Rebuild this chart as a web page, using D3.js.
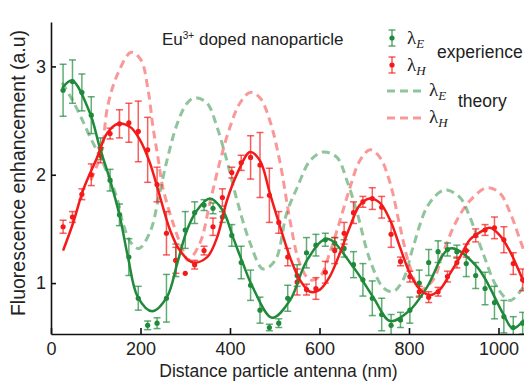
<!DOCTYPE html>
<html>
<head>
<meta charset="utf-8">
<script src="https://cdn.jsdelivr.net/npm/d3@7"></script>
<style>
  body { margin: 0; background: #fff; }
  text { font-family: "Liberation Sans", Arial, sans-serif; }
</style>
</head>
<body>
<div id="chart"></div>
<script>
// measured points (nm), shared by both experiment series
const xExp = [27, 48, 69, 90, 111, 132, 153, 174, 195, 216, 237, 258, 279, 300, 321, 342, 362, 383, 404, 425,
  446, 467, 488, 509, 529, 550, 571, 592, 613, 634, 655, 676, 697, 718, 739, 760, 781, 802, 823, 844,
  865, 886, 907, 928, 949, 970, 991, 1012, 1033, 1054];
const greenExp = [2.78, 2.86, 2.76, 2.55, 2.24, 1.95, 1.63, 1.24, 0.86, 0.61, 0.63, 0.86, 1.21, 1.49, 1.65, 1.72, 1.69, 1.61, 1.44, 1.19,
  0.98, 0.75, 0.59, 0.63, 0.86, 1.07, 1.28, 1.35, 1.40, 1.37, 1.32, 1.17, 1.03, 0.86, 0.71, 0.61, 0.66, 0.75, 1.00, 1.19,
  1.29, 1.31, 1.29, 1.18, 1.07, 0.95, 0.82, 0.69, 0.59, 0.63];
const greenErr = [0.24, 0.2, 0.17, 0.17, 0.1, 0.1, 0.1, 0.17, 0.11, 0.04, 0.05, 0.22, 0.15, 0.17, 0.1, 0.05, 0.05, 0.05, 0.1, 0.15,
  0.14, 0.12, 0.03, 0.04, 0.12, 0.1, 0.14, 0.1, 0.06, 0.05, 0.08, 0.12, 0.15, 0.16, 0.15, 0.1, 0.07, 0.12, 0.12, 0.12,
  0.1, 0.06, 0.06, 0.12, 0.12, 0.15, 0.15, 0.15, 0.1, 0.1];
const redExp = [1.52, 1.61, 1.82, 2.0, 2.18, 2.38, 2.47, 2.48, 2.40, 2.23, 1.91, 1.46, 1.21, 1.09, 1.17, 1.30, 1.52, 1.79, 2.02, 2.11,
  2.16, 2.09, 1.81, 1.56, 1.24, 1.01, 0.94, 0.95, 1.10, 1.30, 1.46, 1.65, 1.75, 1.78, 1.70, 1.45, 1.20, 1.06, 0.92, 0.87,
  0.92, 1.06, 1.19, 1.30, 1.44, 1.49, 1.51, 1.40, 1.18, 1.03];
const redErr = [0.06, 0.05, 0.05, 0.1, 0.07, 0.05, 0.13, 0.18, 0.28, 0.3, 0.16, 0.2, 0.12, 0.0, 0.04, 0.04, 0.08, 0.08, 0.05, 0.07,
  0.2, 0.3, 0.25, 0.1, 0.08, 0.12, 0.05, 0.1, 0.1, 0.12, 0.1, 0.1, 0.05, 0.1, 0.1, 0.12, 0.04, 0.05, 0.05, 0.05,
  0.04, 0.05, 0.05, 0.06, 0.06, 0.05, 0.1, 0.12, 0.1, 0.1];

// fitted curves
const greenFitX = [25, 47, 87, 109, 132, 154, 172, 194, 226, 259, 282, 304, 326, 355, 384, 407, 429, 451, 494, 534,
  572, 617, 675, 720, 758, 802, 840, 892, 952, 1010, 1032, 1057];
const greenFitY = [2.80, 2.87, 2.57, 2.25, 1.95, 1.61, 1.24, 0.87, 0.74, 0.87, 1.18, 1.49, 1.67, 1.78, 1.67, 1.42, 1.18, 0.96, 0.68, 0.84,
  1.21, 1.41, 1.15, 0.87, 0.65, 0.75, 0.96, 1.32, 1.15, 0.72, 0.58, 0.66];
const redFitX = [27, 49, 72, 103, 125, 150, 177, 199, 221, 244, 266, 288, 317, 349, 371, 393, 416, 445, 467, 489,
  512, 534, 556, 579, 601, 623, 646, 668, 690, 713, 735, 758, 780, 802, 825, 847, 869, 892, 914, 936,
  959, 981, 1003, 1026, 1048, 1057];
const redFitY = [1.30, 1.55, 1.86, 2.16, 2.38, 2.47, 2.44, 2.32, 2.11, 1.79, 1.49, 1.30, 1.19, 1.24, 1.42, 1.76, 2.01, 2.21, 2.13, 1.83,
  1.52, 1.24, 1.03, 0.92, 0.94, 1.06, 1.28, 1.52, 1.72, 1.78, 1.74, 1.58, 1.33, 1.09, 0.94, 0.89, 0.94, 1.09, 1.24, 1.40,
  1.47, 1.51, 1.44, 1.29, 1.09, 1.0];

// theory curves
const greenThX = [25, 45, 65, 87, 116, 147, 161, 179, 197, 223, 239, 259, 282, 304, 322, 349, 371, 393, 416, 445,
  474, 501, 527, 550, 579, 608, 639, 661, 684, 713, 742, 764, 787, 809, 840, 869, 885, 914, 936, 965,
  997, 1026, 1055];
const greenThY = [2.85, 2.71, 2.55, 2.35, 2.11, 1.79, 1.55, 1.37, 1.32, 1.49, 1.76, 2.13, 2.47, 2.66, 2.71, 2.66, 2.44, 2.13, 1.76, 1.37,
  1.13, 1.21, 1.65, 1.88, 2.13, 2.21, 2.16, 1.95, 1.65, 1.21, 0.96, 0.92, 1.03, 1.33, 1.70, 1.84, 1.86, 1.79, 1.61, 1.28,
  0.96, 0.84, 0.96];
const redThX = [89, 112, 127, 150, 179, 201, 217, 228, 239, 250, 273, 295, 306, 333, 355, 378, 400, 422, 445, 467,
  489, 512, 534, 556, 579, 601, 623, 646, 668, 690, 713, 735, 758, 780, 802, 825, 854, 876, 907, 936,
  974, 1003, 1026, 1048, 1057];
const redThY = [1.95, 2.20, 2.64, 2.94, 3.13, 3.06, 2.78, 2.44, 2.16, 1.88, 1.55, 1.30, 1.21, 1.37, 1.74, 2.13, 2.44, 2.66, 2.76, 2.71,
  2.50, 2.11, 1.58, 1.18, 1.03, 1.06, 1.28, 1.58, 1.88, 2.13, 2.23, 2.16, 1.92, 1.52, 1.15, 0.94, 1.03, 1.28, 1.58, 1.76,
  1.88, 1.83, 1.65, 1.40, 1.30];

const xTicks = [0, 200, 400, 600, 800, 1000];
const yTicks = [1, 2, 3];

const green = "#1f8a3a", red = "#f41a1a";
const greenLight = "rgba(31,138,58,0.5)", redLight = "rgba(244,26,26,0.45)";

const margin = {top: 22, right: 0, bottom: 47, left: 51},
  width = 524 - margin.left - margin.right,
  height = 381 - margin.top - margin.bottom;

let svg = d3.select("#chart")
.append("svg")
  .attr("width", 524)
  .attr("height", 381)
.append("g")
  .attr("transform", `translate(${margin.left}, ${margin.top})`);

const x = d3.scaleLinear().domain([0, 1057]).range([0, width]);
const y = d3.scaleLinear().domain([0.53, 3.41]).range([height, 0]);

svg.append("clipPath").attr("id", "clip")
  .append("rect").attr("x", 0).attr("y", -10).attr("width", width).attr("height", height + 10);

const plot = svg.append("g").attr("clip-path", "url(#clip)");

const line = d3.line()
  .x(d => x(d[0]))
  .y(d => y(d[1]))
  .curve(d3.curveCatmullRom.alpha(0.5));

// theory (dashed)
plot.append("path")
  .datum(d3.zip(greenThX, greenThY))
  .attr("d", line)
  .attr("fill", "none")
  .attr("stroke", greenLight)
  .attr("stroke-width", 3)
  .attr("stroke-dasharray", "8,5");
plot.append("path")
  .datum(d3.zip(redThX, redThY))
  .attr("d", line)
  .attr("fill", "none")
  .attr("stroke", redLight)
  .attr("stroke-width", 3)
  .attr("stroke-dasharray", "8,5");

// error bars + points
function drawExp(vals, errs, col) {
  const data = d3.zip(xExp, vals, errs);
  const g = plot.append("g");
  const eb = g.selectAll("g.eb").data(data.filter(d => d[2] > 0)).join("g")
    .attr("stroke", col).attr("stroke-opacity", 0.7).attr("stroke-width", 1.5);
  eb.append("line")
    .attr("x1", d => x(d[0])).attr("x2", d => x(d[0]))
    .attr("y1", d => y(d[1] - d[2])).attr("y2", d => y(d[1] + d[2]));
  eb.append("line")
    .attr("x1", d => x(d[0]) - 3.5).attr("x2", d => x(d[0]) + 3.5)
    .attr("y1", d => y(d[1] - d[2])).attr("y2", d => y(d[1] - d[2]));
  eb.append("line")
    .attr("x1", d => x(d[0]) - 3.5).attr("x2", d => x(d[0]) + 3.5)
    .attr("y1", d => y(d[1] + d[2])).attr("y2", d => y(d[1] + d[2]));
  g.selectAll("circle").data(data).join("circle")
    .attr("cx", d => x(d[0]))
    .attr("cy", d => y(d[1]))
    .attr("r", 2.6)
    .attr("fill", col);
}
drawExp(greenExp, greenErr, green);
drawExp(redExp, redErr, red);

// fits
plot.append("path")
  .datum(d3.zip(greenFitX, greenFitY))
  .attr("d", line)
  .attr("fill", "none")
  .attr("stroke", green)
  .attr("stroke-width", 2.5);
plot.append("path")
  .datum(d3.zip(redFitX, redFitY))
  .attr("d", line)
  .attr("fill", "none")
  .attr("stroke", red)
  .attr("stroke-width", 2.5);

// axes
const xAxis = svg.append("g")
  .attr("transform", `translate(0, ${height})`)
  .call(d3.axisBottom(x).tickValues(xTicks).tickFormat(d3.format("d"))
    .tickSize(-6).tickSizeOuter(0).tickPadding(8));
const yAxis = svg.append("g")
  .call(d3.axisLeft(y).tickValues(yTicks).tickFormat(d3.format("d"))
    .tickSize(-5).tickSizeOuter(0).tickPadding(5));
[xAxis, yAxis].forEach(a => {
  a.selectAll("path, line").attr("stroke", "#111").attr("stroke-width", 1.6);
  a.selectAll("text").style("font-size", "18px").attr("fill", "#222")
    .style("font-family", "'Liberation Sans', Arial, sans-serif");
});

svg.append("text")
  .attr("x", width / 2 - 9)
  .attr("y", height + 43)
  .attr("text-anchor", "middle")
  .style("font-size", "17.5px")
  .attr("fill", "#222")
  .text("Distance particle antenna (nm)");

svg.append("text")
  .attr("transform", `translate(${-26}, ${151}) rotate(-90)`)
  .attr("text-anchor", "middle")
  .style("font-size", "19.5px")
  .attr("fill", "#222")
  .text("Fluorescence enhancement (a.u)");

// title
const title = svg.append("text")
  .attr("x", 162 - margin.left)
  .attr("y", 45 - margin.top)
  .style("font-size", "17px")
  .attr("fill", "#222");
title.append("tspan").text("Eu");
title.append("tspan").attr("dy", -6).style("font-size", "10px").text("3+");
title.append("tspan").attr("dy", 6).text(" doped nanoparticle");

// legend
const leg = svg.append("g").attr("transform", `translate(${-margin.left}, ${-margin.top})`);
function lambda(px, py, sub) {
  const t = leg.append("text").attr("x", px).attr("y", py)
    .style("font-family", "'Liberation Serif', 'DejaVu Serif', serif")
    .style("font-size", "19px").attr("fill", "#222");
  t.append("tspan").text("λ");
  t.append("tspan").attr("dy", 4).style("font-size", "13px").style("font-style", "italic").text(sub);
}
[[38, green, "E"], [65, red, "H"]].forEach(([cy, col, sub]) => {
  const g = leg.append("g").attr("stroke", col).attr("stroke-opacity", 0.7).attr("stroke-width", 1.5);
  g.append("line").attr("x1", 392).attr("x2", 392).attr("y1", cy - 8).attr("y2", cy + 8);
  g.append("line").attr("x1", 388.5).attr("x2", 395.5).attr("y1", cy - 8).attr("y2", cy - 8);
  g.append("line").attr("x1", 388.5).attr("x2", 395.5).attr("y1", cy + 8).attr("y2", cy + 8);
  leg.append("circle").attr("cx", 392).attr("cy", cy).attr("r", 2.6).attr("fill", col);
  lambda(407, cy + 6, sub);
});
leg.append("text").attr("x", 437).attr("y", 58).style("font-size", "17.5px").attr("fill", "#222").text("experience");

[[91, greenLight, "E"], [118, redLight, "H"]].forEach(([ly, col, sub]) => {
  leg.append("line").attr("x1", 387).attr("x2", 423).attr("y1", ly).attr("y2", ly)
    .attr("stroke", col).attr("stroke-width", 3).attr("stroke-dasharray", "8,5");
  lambda(429, ly + 5, sub);
});
leg.append("text").attr("x", 458).attr("y", 107).style("font-size", "17.5px").attr("fill", "#222").text("theory");
</script>
</body>
</html>
